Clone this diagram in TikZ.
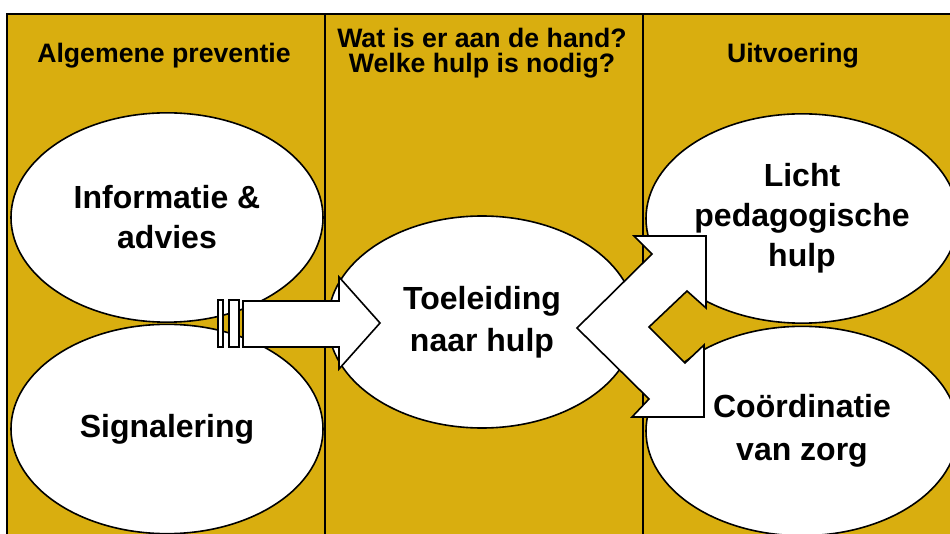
\documentclass[tikz,border=0pt]{standalone}
\usepackage{fontspec}
\setmainfont{Liberation Sans}
\usetikzlibrary{shapes.geometric}
\definecolor{goud}{RGB}{217,174,15}
\tikzset{
  kolom/.style={draw=black,line width=1.2pt,fill=goud},
  bol/.style={ellipse,draw=black,line width=1.2pt,fill=white,minimum width=234pt,minimum height=157pt,inner sep=0pt,align=center,font=\bfseries\fontsize{24}{30}\selectfont},
  kop/.style={align=center,inner sep=0pt,font=\bfseries\fontsize{20}{19.2}\selectfont},
  blokpijl/.style={draw=black,line width=1.2pt,fill=white,line join=miter}
}

\begin{document}
\begin{tikzpicture}[x=0.75pt,y=-0.75pt]
        \useasboundingbox (0,0) rectangle (950,534);
        \clip (0,0) rectangle (950,534);
        \draw[kolom] (7,14) rectangle (325,545);
        \draw[kolom] (325,14) rectangle (643,545);
        \draw[kolom] (643,14) rectangle (960,545);
        \node[kop,anchor=base] (kop1) at (164,63) {Algemene preventie};
        \node[kop] (kop2) at (482,53) {Wat is er aan de hand?\\Welke hulp is nodig?};
        \node[kop,anchor=base] (kop3) at (793,63) {Uitvoering};
        \node[bol] (info) at (167,217.5) {Informatie \&\\advies};
        \node[bol] (sign) at (167,429) {Signalering};
        \node[bol,minimum width=231pt,minimum height=159pt,font=\bfseries\fontsize{24}{31.5}\selectfont] (toe) at (482,322) {Toeleiding\\naar hulp};
        \node[bol] (licht) at (802,218.5) {Licht\\pedagogische\\hulp};
        \node[bol,font=\bfseries\fontsize{24}{32}\selectfont] (coord) at (802,431) {Coördinatie\\van zorg};
        \draw[blokpijl] (218,300) rectangle (223,347);
        \draw[blokpijl] (229,300) rectangle (239,347);
        \draw[blokpijl] (243,301) -- (339,301) -- (339,277) -- (380,323) -- (339,369) -- (339,347) -- (243,347) -- cycle;
        \draw[blokpijl] (577,328) -- (652,254) -- (634,236) -- (706,236) -- (706,308) -- (687,291) -- (649,327) -- (685,363)
            -- (704,345) -- (704,417) -- (632,417) -- (649,399) -- cycle;
    \end{tikzpicture}
\end{document}
